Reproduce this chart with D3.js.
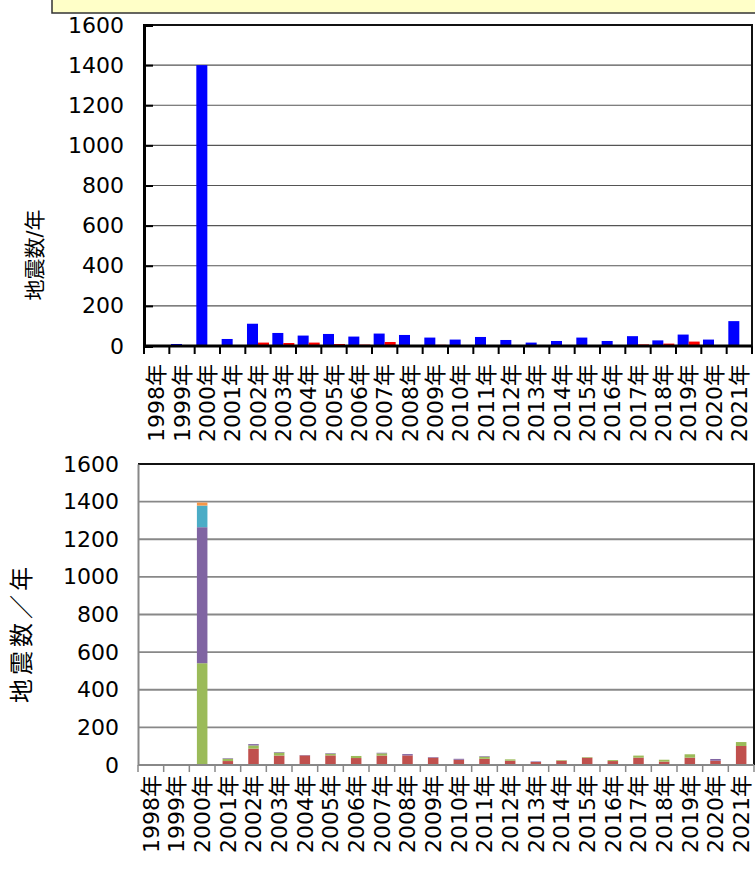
<!DOCTYPE html>
<html>
<head>
<meta charset="utf-8">
<script src="https://cdn.jsdelivr.net/npm/d3@7"></script>
<style>
  body { margin: 0; background: #fff; }
  svg { display: block; font-family: "DejaVu Sans", "Noto Sans CJK JP", sans-serif; }
</style>
</head>
<body>
<div id="chart"></div>
<script>
// 年ラベル
var years = ['1998年','1999年','2000年','2001年','2002年','2003年','2004年','2005年',
             '2006年','2007年','2008年','2009年','2010年','2011年','2012年','2013年',
             '2014年','2015年','2016年','2017年','2018年','2019年','2020年','2021年'];
var yTicks = [0, 200, 400, 600, 800, 1000, 1200, 1400, 1600];

// 上のグラフ（青・赤）
var blueCounts = [0, 10, 1400, 35, 111, 65, 52, 60, 47, 62, 55, 42, 32, 45, 30, 17, 25, 42, 25, 49, 28, 57, 32, 124];
var redCounts  = [0, 0, 0, 3, 17, 15, 17, 10, 7, 20, 5, 6, 0, 0, 0, 0, 0, 0, 0, 8, 12, 22, 0, 0];

// 下のグラフ（積み上げ）
var redStack    = [0, 0, 0, 21, 87, 50, 51, 51, 37, 50, 51, 39, 28, 33, 23, 16, 23, 39, 21, 39, 18, 39, 23, 101];
var greenStack  = [0, 4, 541, 12, 17, 16, 0, 9, 11, 12, 0, 0, 0, 11, 7, 0, 3, 3, 5, 11, 10, 18, 0, 21];
var purpleStack = [0, 0, 723, 3, 7, 3, 2, 3, 0, 3, 7, 3, 5, 3, 0, 3, 0, 0, 0, 0, 0, 0, 9, 0];
var cyanStack   = [0, 0, 115, 0, 0, 0, 0, 0, 0, 0, 0, 0, 0, 0, 0, 0, 0, 0, 0, 0, 0, 0, 0, 0];
var orangeStack = [0, 0, 16, 0, 0, 0, 0, 0, 0, 0, 0, 0, 0, 0, 0, 0, 0, 0, 0, 0, 0, 0, 0, 0];

var stackKeys = ['red', 'green', 'purple', 'cyan', 'orange'];
var stackColors = {red: '#C0504D', green: '#9BBB59', purple: '#8064A2', cyan: '#4BACC6', orange: '#F79646'};

var svg = d3.select('#chart').append('svg')
    .attr('width', 755)
    .attr('height', 870);

// 上の黄色い枠
svg.append('rect')
    .attr('x', 52).attr('y', -4)
    .attr('width', 720).attr('height', 17)
    .attr('fill', '#FFFFC8')
    .attr('stroke', '#333')
    .attr('stroke-width', 1.5);

var fontSize = 22;
var fmt = d3.format('d');

// ===== 上のグラフ =====
var top1 = {left: 144, right: 752, top: 25, bottom: 346};
var x0 = d3.scaleBand().domain(years).range([top1.left, top1.right]);
var x1 = d3.scaleBand().domain(['blue', 'red']).range([0, x0.bandwidth()]).paddingOuter(0.15);
var y0 = d3.scaleLinear().domain([0, 1600]).range([top1.bottom, top1.top]);

var g1 = svg.append('g');

// 目盛線
g1.selectAll('line.grid')
    .data(yTicks.slice(1, -1))
    .enter()
    .append('line')
    .attr('x1', top1.left).attr('x2', top1.right)
    .attr('y1', function(d) { return y0(d); })
    .attr('y2', function(d) { return y0(d); })
    .attr('stroke', '#555')
    .attr('stroke-width', 1.2);

// 棒
var rows1 = years.map(function(d, i) {
    return {year: d, blue: blueCounts[i], red: redCounts[i]};
});
var groups1 = g1.selectAll('g.year')
    .data(rows1)
    .enter()
    .append('g')
    .attr('transform', function(d) { return 'translate(' + x0(d.year) + ',0)'; });
groups1.selectAll('rect')
    .data(function(d) {
        return [{key: 'blue', v: d.blue}, {key: 'red', v: d.red}];
    })
    .enter()
    .append('rect')
    .attr('x', function(d) { return x1(d.key); })
    .attr('width', x1.bandwidth())
    .attr('y', function(d) { return y0(d.v); })
    .attr('height', function(d) { return top1.bottom - y0(d.v); })
    .attr('fill', function(d) { return d.key === 'blue' ? '#0000FF' : '#FF0000'; });

// 枠
g1.append('path')
    .attr('d', 'M' + top1.left + ',' + top1.top + 'H' + top1.right + 'V' + top1.bottom)
    .attr('fill', 'none')
    .attr('stroke', '#111')
    .attr('stroke-width', 2);

// y軸
var yAxis1 = d3.axisLeft(y0).tickValues(yTicks).tickFormat(fmt).tickSize(-9).tickPadding(20);
g1.append('g')
    .attr('transform', 'translate(' + top1.left + ',0)')
    .call(yAxis1)
    .call(function(g) {
        g.select('.domain').attr('stroke', '#000').attr('stroke-width', 3);
        g.selectAll('.tick line').attr('stroke', '#000').attr('stroke-width', 2);
        g.selectAll('.tick text').attr('font-size', fontSize).attr('fill', '#000')
            .attr('font-family', '"DejaVu Sans", sans-serif');
    });

// x軸
g1.append('line')
    .attr('x1', top1.left).attr('x2', top1.right)
    .attr('y1', top1.bottom).attr('y2', top1.bottom)
    .attr('stroke', '#000').attr('stroke-width', 3);
g1.selectAll('line.xtick')
    .data(years.concat(['end']))
    .enter()
    .append('line')
    .attr('x1', function(d) { return d === 'end' ? top1.right : x0(d); })
    .attr('x2', function(d) { return d === 'end' ? top1.right : x0(d); })
    .attr('y1', top1.bottom).attr('y2', top1.bottom + 8)
    .attr('stroke', '#000').attr('stroke-width', 2);
g1.selectAll('text.xlab')
    .data(years)
    .enter()
    .append('text')
    .attr('transform', function(d) {
        return 'translate(' + (x0(d) + x0.bandwidth() / 2) + ',' + (top1.bottom + 18) + ') rotate(-90)';
    })
    .attr('text-anchor', 'end')
    .attr('dy', '0.35em')
    .attr('font-size', fontSize)
    .text(function(d) { return d; });

// y軸タイトル
svg.append('text')
    .attr('transform', 'translate(35,255) rotate(-90)')
    .attr('text-anchor', 'middle')
    .attr('dy', '0.35em')
    .attr('font-size', 21)
    .text('地震数/年');

// ===== 下のグラフ =====
var bot = {left: 138, right: 754, top: 464, bottom: 765};
var xc = d3.scaleBand().domain(years).range([bot.left, bot.right]);
var xb = d3.scaleBand().domain(years).range([bot.left, bot.right]).paddingInner(0.59).paddingOuter(0.295);
var y1 = d3.scaleLinear().domain([0, 1600]).range([bot.bottom, bot.top]);

var g2 = svg.append('g');

g2.selectAll('line.grid')
    .data(yTicks.slice(1, -1))
    .enter()
    .append('line')
    .attr('x1', bot.left).attr('x2', bot.right)
    .attr('y1', function(d) { return y1(d); })
    .attr('y2', function(d) { return y1(d); })
    .attr('stroke', '#888')
    .attr('stroke-width', 1.8);

var rows2 = years.map(function(d, i) {
    return {year: d, red: redStack[i], green: greenStack[i], purple: purpleStack[i],
            cyan: cyanStack[i], orange: orangeStack[i]};
});
var series = d3.stack().keys(stackKeys)(rows2);

g2.selectAll('g.series')
    .data(series)
    .enter()
    .append('g')
    .attr('fill', function(d) { return stackColors[d.key]; })
    .selectAll('rect')
    .data(function(d) { return d; })
    .enter()
    .append('rect')
    .attr('x', function(d) { return xb(d.data.year); })
    .attr('width', xb.bandwidth())
    .attr('y', function(d) { return y1(d[1]); })
    .attr('height', function(d) { return y1(d[0]) - y1(d[1]); });

// 枠
g2.append('path')
    .attr('d', 'M' + bot.left + ',' + bot.top + 'H' + bot.right + 'V' + bot.bottom)
    .attr('fill', 'none')
    .attr('stroke', '#111')
    .attr('stroke-width', 2);

var yAxis2 = d3.axisLeft(y1).tickValues(yTicks).tickFormat(fmt).tickSize(0).tickPadding(19);
g2.append('g')
    .attr('transform', 'translate(' + bot.left + ',0)')
    .call(yAxis2)
    .call(function(g) {
        g.select('.domain').attr('stroke', '#888').attr('stroke-width', 2);
        g.selectAll('.tick text').attr('font-size', fontSize).attr('fill', '#000')
            .attr('font-family', '"DejaVu Sans", sans-serif');
    });

g2.append('line')
    .attr('x1', bot.left).attr('x2', bot.right)
    .attr('y1', bot.bottom).attr('y2', bot.bottom)
    .attr('stroke', '#888').attr('stroke-width', 2);
g2.selectAll('line.xtick')
    .data(years.concat(['end']))
    .enter()
    .append('line')
    .attr('x1', function(d) { return d === 'end' ? bot.right : xc(d); })
    .attr('x2', function(d) { return d === 'end' ? bot.right : xc(d); })
    .attr('y1', bot.bottom).attr('y2', bot.bottom + 7)
    .attr('stroke', '#888').attr('stroke-width', 1.5);
g2.selectAll('text.xlab')
    .data(years)
    .enter()
    .append('text')
    .attr('transform', function(d) {
        return 'translate(' + (xc(d) + xc.bandwidth() / 2) + ',' + (bot.bottom + 10) + ') rotate(-90)';
    })
    .attr('text-anchor', 'end')
    .attr('dy', '0.35em')
    .attr('font-size', fontSize)
    .text(function(d) { return d; });

svg.append('text')
    .attr('transform', 'translate(22,633) rotate(-90)')
    .attr('text-anchor', 'middle')
    .attr('dy', '0.35em')
    .attr('font-size', 24)
    .attr('letter-spacing', 4)
    .attr('font-family', '"Noto Sans CJK JP", sans-serif')
    .text('地震数／年');
</script>
</body>
</html>
